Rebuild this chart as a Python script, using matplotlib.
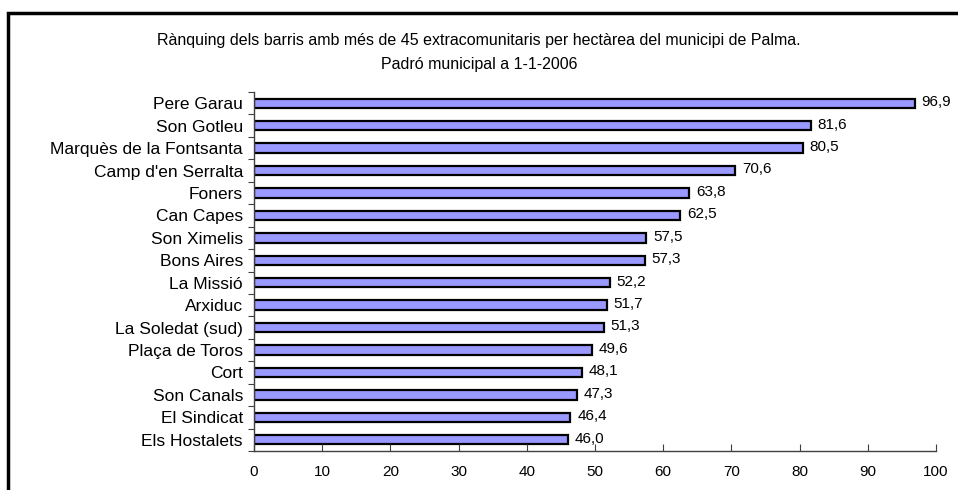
import matplotlib.pyplot as plt
from matplotlib.patches import Rectangle

plt.rcParams['font.family'] = ['Liberation Sans', 'DejaVu Sans']

barris = ['Pere Garau', 'Son Gotleu', 'Marquès de la Fontsanta', "Camp d'en Serralta",
          'Foners', 'Can Capes', 'Son Ximelis', 'Bons Aires', 'La Missió', 'Arxiduc',
          'La Soledat (sud)', 'Plaça de Toros', 'Cort', 'Son Canals', 'El Sindicat',
          'Els Hostalets']
valors = [96.9, 81.6, 80.5, 70.6, 63.8, 62.5, 57.5, 57.3, 52.2, 51.7,
          51.3, 49.6, 48.1, 47.3, 46.4, 46.0]
xticks = list(range(0, 101, 10))

fig = plt.figure(figsize=(9.58, 4.9), dpi=100)
ax = fig.add_axes([254 / 958, 1 - 451 / 490, (936 - 254) / 958, (451 - 92) / 490])

pos = list(range(len(barris)))
ax.barh(pos, valors, height=0.42, color='#9999ff', edgecolor='black', linewidth=1.6)
for p, v in zip(pos, valors):
    ax.text(v + 1.0, p - 0.05, f'{v:.1f}'.replace('.', ','), va='center', ha='left', fontsize=11)

ax.set_ylim(len(barris) - 0.5, -0.5)
ax.set_yticks([p - 0.5 for p in pos] + [len(barris) - 0.5])
ax.set_yticklabels([])
ax.set_yticks(pos, minor=True)
ax.set_yticklabels(barris, minor=True, fontsize=12.5)
ax.tick_params(axis='y', which='minor', length=0, pad=8)
ax.tick_params(axis='y', which='major', length=4, direction='out', color='#404040')

ax.set_xlim(0, 100)
ax.set_xticks(xticks)
ax.set_xticklabels([str(t) for t in xticks], fontsize=11)
ax.tick_params(axis='x', length=5, direction='in', color='#404040', pad=10)

for s in ['top', 'right']:
    ax.spines[s].set_visible(False)
for s in ['left', 'bottom']:
    ax.spines[s].set_color('#404040')
    ax.spines[s].set_linewidth(1.0)

fig.text(0.5, 1 - 40 / 490, 'Rànquing dels barris amb més de 45 extracomunitaris per hectàrea del municipi de Palma.',
         ha='center', va='center', fontsize=11.5)
fig.text(0.5, 1 - 64 / 490, 'Padró municipal a 1-1-2006', ha='center', va='center', fontsize=11.5)

fig.patches.append(Rectangle((8 / 958, -0.1), 1.2, 1.1 - 13 / 490, transform=fig.transFigure,
                             fill=False, edgecolor='black', linewidth=2.5))

fig.savefig('out.png', dpi=100)
